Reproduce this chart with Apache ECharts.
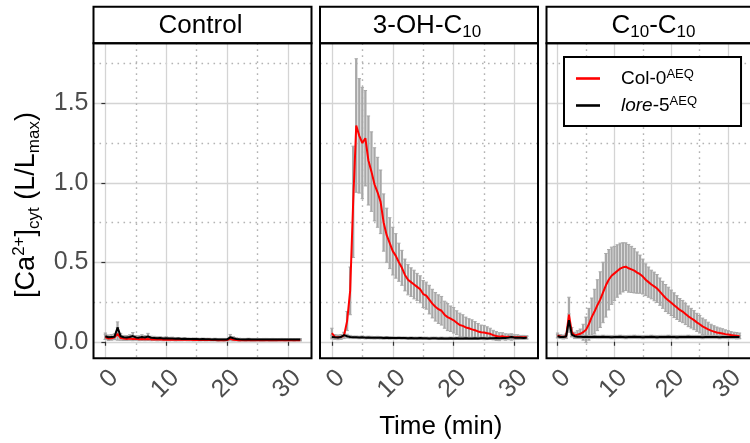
<!DOCTYPE html>
<html><head><meta charset="utf-8">
<script src="https://cdn.jsdelivr.net/npm/echarts@6/dist/echarts.min.js"></script>
<style>html,body{margin:0;padding:0;background:#fff}#c{width:750px;height:443px}</style>
</head><body><div id="c"></div>
<script>
// ---------- data ----------
const panelTitles = ['Control', '3-OH-C10', 'C10-C10'];
const seriesNames = ['Col-0', 'lore-5'];
const xTicks = [0, 10, 20, 30];
const xMinorTicks = [5, 15, 25];
const yTicks = [0, 0.5, 1.0, 1.5];
const yMinorTicks = [0.25, 0.75, 1.25, 1.75];

const time = [0,0.5,1,1.5,2,2.5,3,3.5,4,4.5,5,5.5,6,6.5,7,7.5,8,8.5,9,9.5,
  10,10.5,11,11.5,12,12.5,13,13.5,14,14.5,15,15.5,16,16.5,17,17.5,18,18.5,19,19.5,
  20,20.5,21,21.5,22,22.5,23,23.5,24,24.5,25,25.5,26,26.5,27,27.5,28,28.5,29,29.5,
  30,30.5,31,31.5,32];

// Control
const ctrlCol = [0.030,0.020,0.022,0.028,0.050,0.024,0.020,0.018,0.021,0.017,
  0.019,0.016,0.018,0.016,0.017,0.015,0.016,0.014,0.015,0.013,
  0.014,0.013,0.014,0.012,0.013,0.012,0.013,0.012,0.012,0.011,
  0.012,0.011,0.012,0.011,0.012,0.011,0.011,0.010,0.011,0.010,
  0.011,0.018,0.013,0.011,0.010,0.011,0.010,0.011,0.010,0.010,
  0.011,0.010,0.010,0.011,0.010,0.010,0.009,0.010,0.010,0.009,
  0.010,0.010,0.009,0.010,0.010];
const ctrlColErr = [0.015,0.012,0.012,0.015,0.040,0.015,0.012,0.010,0.012,0.010,
  0.010,0.009,0.010,0.009,0.009,0.008,0.008,0.008,0.008,0.007,
  0.007,0.007,0.007,0.007,0.007,0.006,0.006,0.006,0.006,0.006,
  0.006,0.006,0.006,0.006,0.006,0.006,0.006,0.006,0.006,0.006,
  0.006,0.012,0.008,0.006,0.006,0.006,0.006,0.006,0.006,0.006,
  0.006,0.006,0.006,0.006,0.006,0.006,0.005,0.005,0.005,0.005,
  0.005,0.005,0.005,0.005,0.005];
const ctrlLore = [0.035,0.028,0.030,0.032,0.090,0.035,0.028,0.027,0.030,0.036,
  0.027,0.026,0.030,0.027,0.033,0.025,0.024,0.022,0.023,0.021,
  0.022,0.020,0.021,0.019,0.020,0.018,0.019,0.018,0.017,0.018,
  0.017,0.016,0.017,0.016,0.016,0.015,0.016,0.015,0.015,0.015,
  0.015,0.028,0.022,0.018,0.016,0.015,0.015,0.016,0.015,0.015,
  0.015,0.014,0.015,0.015,0.014,0.015,0.014,0.014,0.015,0.014,
  0.014,0.014,0.014,0.014,0.014];
const ctrlLoreErr = [0.020,0.015,0.015,0.018,0.035,0.018,0.012,0.012,0.014,0.022,
  0.012,0.012,0.014,0.012,0.020,0.010,0.010,0.009,0.009,0.008,
  0.010,0.008,0.008,0.007,0.007,0.007,0.007,0.006,0.006,0.006,
  0.006,0.006,0.006,0.006,0.006,0.006,0.006,0.006,0.006,0.006,
  0.006,0.018,0.010,0.007,0.006,0.006,0.006,0.006,0.006,0.006,
  0.006,0.006,0.006,0.006,0.006,0.006,0.006,0.006,0.006,0.006,
  0.006,0.006,0.006,0.006,0.006];

// 3-OH-C10
const ohCol = [0.055,0.030,0.028,0.030,0.040,0.130,0.320,0.880,1.360,1.295,
  1.250,1.280,1.140,1.070,0.990,0.940,0.880,0.750,0.670,0.620,
  0.570,0.540,0.500,0.465,0.420,0.390,0.375,0.360,0.345,0.330,
  0.300,0.290,0.265,0.240,0.220,0.205,0.195,0.170,0.155,0.145,
  0.135,0.120,0.105,0.100,0.090,0.085,0.078,0.072,0.065,0.060,
  0.058,0.054,0.050,0.042,0.036,0.032,0.035,0.030,0.031,0.030,
  0.029,0.029,0.028,0.028,0.028];
const ohColErr = [0.030,0.015,0.015,0.015,0.020,0.060,0.150,0.350,0.420,0.360,
  0.350,0.300,0.280,0.250,0.230,0.220,0.200,0.180,0.170,0.160,
  0.150,0.140,0.120,0.110,0.100,0.095,0.090,0.090,0.085,0.085,
  0.085,0.085,0.090,0.090,0.090,0.090,0.090,0.085,0.085,0.080,
  0.080,0.075,0.075,0.070,0.065,0.060,0.060,0.055,0.050,0.045,
  0.045,0.040,0.035,0.030,0.028,0.025,0.022,0.020,0.018,0.020,
  0.015,0.015,0.012,0.012,0.010];
const ohLore = [0.030,0.028,0.027,0.030,0.042,0.035,0.030,0.028,0.028,0.027,
  0.029,0.026,0.027,0.026,0.025,0.026,0.025,0.024,0.025,0.024,
  0.024,0.023,0.024,0.023,0.023,0.022,0.023,0.022,0.022,0.023,
  0.022,0.022,0.021,0.022,0.022,0.021,0.022,0.021,0.021,0.022,
  0.021,0.022,0.021,0.021,0.022,0.021,0.021,0.022,0.021,0.022,
  0.022,0.021,0.022,0.022,0.023,0.022,0.023,0.024,0.026,0.030,
  0.026,0.025,0.025,0.024,0.025];
const ohLoreErr = [0.012,0.010,0.010,0.010,0.014,0.012,0.010,0.008,0.008,0.008,
  0.008,0.008,0.008,0.008,0.008,0.008,0.008,0.008,0.008,0.008,
  0.007,0.007,0.007,0.007,0.007,0.007,0.007,0.007,0.007,0.007,
  0.007,0.007,0.007,0.007,0.007,0.007,0.007,0.007,0.007,0.007,
  0.007,0.007,0.007,0.007,0.007,0.007,0.007,0.007,0.007,0.007,
  0.007,0.007,0.007,0.007,0.007,0.007,0.008,0.008,0.010,0.012,
  0.008,0.008,0.008,0.008,0.008];

// C10-C10
const c10Col = [0.040,0.033,0.030,0.035,0.170,0.060,0.040,0.045,0.050,0.060,
  0.075,0.110,0.155,0.190,0.230,0.265,0.310,0.355,0.390,0.415,
  0.430,0.445,0.460,0.468,0.472,0.462,0.455,0.447,0.435,0.425,
  0.410,0.390,0.375,0.360,0.348,0.335,0.315,0.295,0.275,0.260,
  0.245,0.230,0.215,0.200,0.190,0.175,0.160,0.148,0.136,0.122,
  0.110,0.097,0.088,0.078,0.070,0.064,0.058,0.055,0.052,0.048,
  0.045,0.042,0.040,0.038,0.037];
const c10ColErr = [0.015,0.012,0.012,0.015,0.110,0.030,0.020,0.025,0.030,0.050,
  0.080,0.100,0.120,0.140,0.160,0.175,0.190,0.200,0.190,0.180,
  0.170,0.165,0.160,0.155,0.150,0.150,0.145,0.140,0.130,0.120,
  0.110,0.100,0.095,0.090,0.090,0.088,0.086,0.085,0.085,0.083,
  0.080,0.078,0.075,0.072,0.070,0.067,0.065,0.062,0.060,0.057,
  0.055,0.052,0.050,0.045,0.040,0.037,0.035,0.032,0.030,0.027,
  0.025,0.022,0.020,0.020,0.018];
const c10Lore = [0.035,0.030,0.030,0.033,0.135,0.045,0.035,0.032,0.031,0.030,
  0.031,0.030,0.030,0.031,0.030,0.030,0.031,0.030,0.030,0.029,
  0.030,0.030,0.031,0.030,0.029,0.030,0.030,0.031,0.030,0.030,
  0.029,0.030,0.030,0.031,0.030,0.029,0.030,0.030,0.030,0.031,
  0.030,0.030,0.029,0.030,0.030,0.030,0.031,0.030,0.030,0.030,
  0.030,0.029,0.030,0.030,0.030,0.030,0.030,0.029,0.030,0.030,
  0.030,0.030,0.030,0.030,0.030];
const c10LoreErr = [0.010,0.010,0.010,0.010,0.040,0.012,0.010,0.010,0.010,0.010,
  0.010,0.010,0.010,0.010,0.010,0.010,0.010,0.010,0.010,0.010,
  0.010,0.010,0.010,0.010,0.010,0.010,0.010,0.010,0.010,0.010,
  0.010,0.010,0.010,0.010,0.010,0.010,0.010,0.010,0.010,0.010,
  0.010,0.010,0.010,0.010,0.010,0.010,0.010,0.010,0.010,0.010,
  0.010,0.010,0.010,0.010,0.010,0.010,0.010,0.010,0.010,0.010,
  0.010,0.010,0.010,0.010,0.010];

// ---------- layout / style ----------
const FONT = '"Liberation Sans", Arial, Helvetica, sans-serif';
const PANEL_LEFT = [93.5, 320, 546.5];
const PANEL_W = 218;
const PLOT_TOP = 43.3, PLOT_H = 315;
const STRIP_TOP = 6.7, STRIP_H = 36.6;
const X_MIN = -1.95, X_MAX = 33.85;
const Y_MIN = -0.104, Y_MAX = 1.877;
const RED = '#ff0000', BLACK = '#000000', ERR = '#a8a8a8';

const panels = [
  {col: ctrlCol, colErr: ctrlColErr, lore: ctrlLore, loreErr: ctrlLoreErr},
  {col: ohCol, colErr: ohColErr, lore: ohLore, loreErr: ohLoreErr},
  {col: c10Col, colErr: c10ColErr, lore: c10Lore, loreErr: c10LoreErr}
];

function errRender(params, api) {
  const x = api.value(0), lo = api.value(1), hi = api.value(2);
  const p1 = api.coord([x, hi]), p2 = api.coord([x, lo]);
  const cw = 1.7;
  const st = {stroke: ERR, lineWidth: 2.3};
  const cst = {stroke: ERR, lineWidth: 1};
  return {type: 'group', children: [
    {type: 'line', shape: {x1: p1[0], y1: p1[1], x2: p2[0], y2: p2[1]}, style: st},
    {type: 'line', shape: {x1: p1[0] - cw, y1: p1[1], x2: p1[0] + cw, y2: p1[1]}, style: cst},
    {type: 'line', shape: {x1: p2[0] - cw, y1: p2[1], x2: p2[0] + cw, y2: p2[1]}, style: cst}
  ]};
}

const grids = [], xAxes = [], yAxes = [], series = [], graphics = [];
const majorLine = {show: true, lineStyle: {color: '#d4d4d4', width: 1.3, type: 'solid'}};
const minorLine = {show: true, lineStyle: {color: '#b4b4b4', width: 1.4, type: [1.6, 4.4]}};

panels.forEach((p, i) => {
  grids.push({left: PANEL_LEFT[i], top: PLOT_TOP, width: PANEL_W, height: PLOT_H, show: false});
});
// major axes
panels.forEach((p, i) => {
  xAxes.push({type: 'value', gridIndex: i, min: X_MIN, max: X_MAX,
    axisLine: {show: false},
    axisTick: {show: true, length: 4, customValues: xTicks, lineStyle: {color: '#333', width: 1.2}},
    axisLabel: {customValues: xTicks, rotate: 45, align: 'right', verticalAlign: 'top', margin: 7,
      fontSize: 25, color: '#4d4d4d', fontFamily: FONT},
    splitLine: majorLine});
  yAxes.push({type: 'value', gridIndex: i, min: Y_MIN, max: Y_MAX,
    axisLine: {show: false},
    axisTick: {show: i === 0, length: 4, customValues: yTicks, lineStyle: {color: '#333', width: 1.2}},
    axisLabel: {show: i === 0, customValues: yTicks, margin: 5, fontSize: 25, color: '#4d4d4d',
      fontFamily: FONT, formatter: v => v.toFixed(1)},
    splitLine: majorLine});
});
// minor axes (dotted grid)
panels.forEach((p, i) => {
  xAxes.push({type: 'value', gridIndex: i, min: X_MIN, max: X_MAX, position: 'top',
    axisLine: {show: false}, axisTick: {show: false, customValues: xMinorTicks},
    axisLabel: {show: false, customValues: xMinorTicks}, splitLine: minorLine});
  yAxes.push({type: 'value', gridIndex: i, min: Y_MIN, max: Y_MAX, position: 'right',
    axisLine: {show: false}, axisTick: {show: false, customValues: yMinorTicks},
    axisLabel: {show: false, customValues: yMinorTicks}, splitLine: minorLine});
});

panels.forEach((p, i) => {
  [[p.col, p.colErr], [p.lore, p.loreErr]].forEach(([m, e]) => {
    series.push({type: 'custom', xAxisIndex: i, yAxisIndex: i, renderItem: errRender, silent: true,
      encode: {x: 0, y: [1, 2]}, z: 1, clip: true,
      data: time.map((t, k) => [t, m[k] - e[k], m[k] + e[k]])});
  });
  series.push({type: 'line', name: seriesNames[0], xAxisIndex: i, yAxisIndex: i, symbol: 'none', z: 2,
    lineStyle: {color: RED, width: 2}, itemStyle: {color: RED},
    data: time.map((t, k) => [t, p.col[k]])});
  series.push({type: 'line', name: seriesNames[1], xAxisIndex: i, yAxisIndex: i, symbol: 'none', z: 3,
    lineStyle: {color: BLACK, width: 2}, itemStyle: {color: BLACK},
    data: time.map((t, k) => [t, p.lore[k]])});
});

// strips and frames
const stripRich = {
  n: {fontSize: 26, lineHeight: 30, fontFamily: FONT, color: '#1a1a1a'},
  sub: {fontSize: 17, lineHeight: 17, verticalAlign: 'bottom', fontFamily: FONT, color: '#1a1a1a'}
};
const stripText = [
  '{n|Control}',
  '{n|3-OH-C}{sub|10}',
  '{n|C}{sub|10}{n|-C}{sub|10}'
];
panels.forEach((p, i) => {
  graphics.push({type: 'rect', z: 50, shape: {x: PANEL_LEFT[i], y: STRIP_TOP, width: PANEL_W, height: STRIP_H},
    style: {fill: '#fff', stroke: '#000', lineWidth: 2}});
  graphics.push({type: 'text', z: 51, x: PANEL_LEFT[i] + PANEL_W / 2 - 2, y: STRIP_TOP + STRIP_H / 2 + 1,
    style: {text: stripText[i], rich: stripRich, align: 'center', verticalAlign: 'middle'}});
  graphics.push({type: 'rect', z: 50, shape: {x: PANEL_LEFT[i], y: PLOT_TOP, width: PANEL_W, height: PLOT_H},
    style: {fill: 'none', stroke: '#000', lineWidth: 2}});
});
// axis titles
graphics.push({type: 'text', z: 51, x: 440.8, y: 426.7,
  style: {text: 'Time (min)', font: '26px ' + FONT, fill: '#000', align: 'center', verticalAlign: 'middle'}});
graphics.push({type: 'text', z: 51, x: 27, y: 205, rotation: Math.PI / 2,
  style: {text: '{n|[Ca}{sup|2+}{n|]}{sub|cyt}{n| (L/L}{sub|max}{n|)}', align: 'center', verticalAlign: 'middle',
    rich: {
      n: {fontSize: 27, lineHeight: 32, fontFamily: FONT, color: '#000'},
      sup: {fontSize: 17, lineHeight: 17, verticalAlign: 'top', fontFamily: FONT, color: '#000'},
      sub: {fontSize: 17, lineHeight: 17, verticalAlign: 'bottom', fontFamily: FONT, color: '#000'}
    }}});

const chart = echarts.init(document.getElementById('c'), null, {renderer: 'canvas'});
chart.setOption({
  animation: false,
  backgroundColor: '#fff',
  grid: grids, xAxis: xAxes, yAxis: yAxes, series: series, graphic: graphics,
  legend: {
    data: seriesNames.map(n => ({name: n, icon: 'rect'})),
    orient: 'vertical', left: 564, top: 57,
    padding: [11, 44, 11, 12], itemGap: 7, itemWidth: 24, itemHeight: 2.6,
    backgroundColor: '#fff', borderColor: '#000', borderWidth: 2, borderRadius: 0,
    selectedMode: false, z: 60,
    formatter: n => n === 'Col-0' ? '{g|}{n|Col-0}{s|AEQ}' : '{g|}{i|lore}{n|-5}{s|AEQ}',
    textStyle: {rich: {
      g: {width: 16},
      n: {fontSize: 19, lineHeight: 21, color: '#000', fontFamily: FONT},
      i: {fontSize: 19, lineHeight: 21, color: '#000', fontFamily: FONT, fontStyle: 'italic'},
      s: {fontSize: 13, lineHeight: 13, verticalAlign: 'top', color: '#000', fontFamily: FONT}
    }}
  }
});
</script></body></html>
